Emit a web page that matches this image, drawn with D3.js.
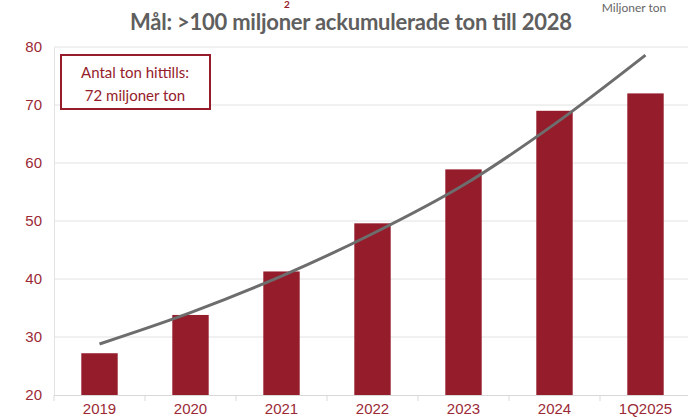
<!DOCTYPE html>
<html lang="sv">
<head>
<meta charset="utf-8">
<title>Mål: >100 miljoner ackumulerade ton till 2028</title>
<script src="https://cdn.jsdelivr.net/npm/d3@7"></script>
<style>
  body { margin: 0; background: #fff; }
  svg { display: block; font-family: Lato, "Open Sans", sans-serif; }
</style>
</head>
<body>
<div id="chart"></div>
<script>
// data
var years = ["2019", "2020", "2021", "2022", "2023", "2024", "1Q2025"]
var tons = [27.2, 33.8, 41.3, 49.6, 58.9, 69.0, 72.0]        // miljoner ton, ackumulerat
var trend = [28.8, 34.2, 40.5, 47.8, 56.2, 66.7, 78.6]       // grå trendlinje
var yTicks = [20, 30, 40, 50, 60, 70, 80]

var width = 688, height = 418
var red = "#951c2b", labelRed = "#9b2a36"

var svg = d3.select("#chart").append("svg")
  .attr("width", width)
  .attr("height", height)

// scales
var x = d3.scaleBand().domain(years).range([54, 691]).padding(0)
var y = d3.scaleLinear().domain([20, 80]).range([395, 47])

// cut-off line at the very top (only the subscript shows)
svg.append("text")
  .attr("x", 287).attr("y", 8)
  .attr("text-anchor", "middle")
  .style("font-size", "10px").style("font-weight", "bold")
  .style("fill", red)
  .text("2")

// title
svg.append("text")
  .attr("x", 351).attr("y", 30)
  .attr("text-anchor", "middle")
  .attr("textLength", 442)
  .style("font-size", "22px").style("font-weight", "bold")
  .style("fill", "#5f5f5f")
  .text("Mål: >100 miljoner ackumulerade ton till 2028")

svg.append("text")
  .attr("x", 634).attr("y", 12)
  .attr("text-anchor", "middle")
  .style("font-size", "12px")
  .style("fill", "#666")
  .text("Miljoner ton")

// gridlines
svg.append("g").selectAll("line")
  .data(yTicks.slice(1))
  .enter().append("line")
    .attr("x1", 54).attr("x2", width)
    .attr("y1", function(d){ return y(d) }).attr("y2", function(d){ return y(d) })
    .attr("stroke", "#e2e2e2").attr("stroke-width", 1)

// y axis
var yAxis = svg.append("g")
  .attr("transform", "translate(54,0)")
  .call(d3.axisLeft(y).tickValues(yTicks).tickSize(0).tickPadding(12))
yAxis.select(".domain").attr("stroke", "#e2e2e2")
yAxis.selectAll("text").style("font-size", "15px").style("fill", labelRed)

// bars
var bw = x.bandwidth() * 0.4
svg.append("g").selectAll("rect")
  .data(tons)
  .enter().append("rect")
    .attr("x", function(d, i){ return x(years[i]) + (x.bandwidth() - bw) / 2 })
    .attr("y", function(d){ return y(d) })
    .attr("width", bw)
    .attr("height", function(d){ return y(20) - y(d) })
    .attr("fill", red)

// x axis
var xAxis = svg.append("g")
  .attr("transform", "translate(0," + y(20) + ")")
  .call(d3.axisBottom(x).tickSize(0).tickPadding(8))
xAxis.select(".domain").attr("stroke", "#d9d9d9")
xAxis.selectAll("text").style("font-size", "15px").style("fill", labelRed)
xAxis.selectAll(".sep")
  .data(years)
  .enter().append("line")
    .attr("class", "sep")
    .attr("x1", function(d){ return x(d) }).attr("x2", function(d){ return x(d) })
    .attr("y1", 0).attr("y2", 6)
    .attr("stroke", "#d9d9d9")

// trend line
var line = d3.line()
  .x(function(d, i){ return x(years[i]) + x.bandwidth() / 2 })
  .y(function(d){ return y(d) })
  .curve(d3.curveMonotoneX)
svg.append("path")
  .datum(trend)
  .attr("d", line)
  .attr("fill", "none")
  .attr("stroke", "#6d6d6d")
  .attr("stroke-width", 3)

// annotation box
svg.append("rect")
  .attr("x", 61).attr("y", 55)
  .attr("width", 149).attr("height", 54)
  .attr("fill", "#fff")
  .attr("stroke", red).attr("stroke-width", 2)
var note = svg.append("text")
  .attr("text-anchor", "middle")
  .style("font-size", "15px")
  .style("fill", red)
note.append("tspan").attr("x", 135).attr("y", 78).text("Antal ton hittills:")
note.append("tspan").attr("x", 135).attr("y", 101).text("72 miljoner ton")
</script>
</body>
</html>
